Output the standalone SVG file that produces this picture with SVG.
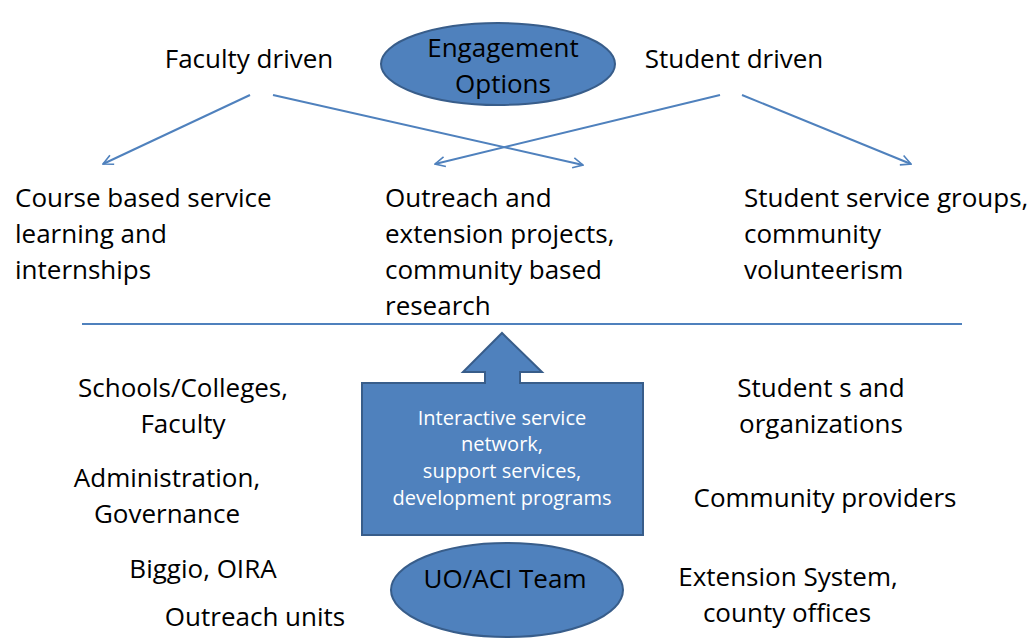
<svg xmlns="http://www.w3.org/2000/svg" width="1031" height="642" viewBox="0 0 1031 642">
<defs>
<style>
.t{font-family:"Open Sans",Lato,"Liberation Sans",sans-serif;font-size:26px;fill:#000}
.c{text-anchor:middle}
.w{font-family:"Open Sans",Lato,"Liberation Sans",sans-serif;font-size:20px;fill:#fff;text-anchor:middle}
.shape{fill:#4F81BD;stroke:#385D8A;stroke-width:2}
.conn{stroke:#4F81BD;stroke-width:2;fill:none;marker-end:url(#ah)}
</style>
<marker id="ah" viewBox="0 0 12 12" refX="11" refY="6" markerWidth="12" markerHeight="12" markerUnits="userSpaceOnUse" orient="auto">
<path d="M1,1 L11,6 L1,11" fill="none" stroke="#4F81BD" stroke-width="1.6"/>
</marker>
</defs>
<rect width="1031" height="642" fill="#fff"/>
<g id="engagement">
<ellipse class="shape" cx="498" cy="64" rx="117" ry="41"/>
<text class="t c" x="503" y="57">Engagement</text>
<text class="t c" x="503" y="93">Options</text>
</g>
<g id="faculty"><text class="t c" x="249" y="68">Faculty driven</text></g>
<g id="student"><text class="t c" x="734" y="68">Student driven</text></g>
<g id="course">
<text class="t" x="15" y="207">Course based service</text>
<text class="t" x="15" y="243">learning and</text>
<text class="t" x="15" y="279">internships</text>
</g>
<g id="outreach">
<text class="t" x="385" y="207">Outreach and</text>
<text class="t" x="385" y="243">extension projects,</text>
<text class="t" x="385" y="279">community based</text>
<text class="t" x="385" y="315">research</text>
</g>
<g id="groups">
<text class="t" x="744" y="207">Student service groups,</text>
<text class="t" x="744" y="243">community</text>
<text class="t" x="744" y="279">volunteerism</text>
</g>
<g id="connectors">
<line class="conn" x1="250" y1="95" x2="103" y2="164"/>
<line class="conn" x1="273" y1="95" x2="583" y2="165"/>
<line class="conn" x1="720" y1="95" x2="435" y2="164"/>
<line class="conn" x1="742" y1="95" x2="911" y2="164"/>
<line x1="82" y1="324" x2="962" y2="324" stroke="#4F81BD" stroke-width="2"/>
</g>
<g id="network">
<path class="shape" d="M362,383 L485,383 L485,372 L463,372 L502,333 L542,372 L520,372 L520,383 L643,383 L643,535 L362,535 Z"/>
<text class="w" x="502" y="425">Interactive service</text>
<text class="w" x="502" y="451">network,</text>
<text class="w" x="502" y="478">support services,</text>
<text class="w" x="502" y="505">development programs</text>
</g>
<g id="team">
<ellipse class="shape" cx="507" cy="590" rx="116" ry="47"/>
<text class="t c" x="505" y="588">UO/ACI Team</text>
</g>
<g id="schools">
<text class="t c" x="183" y="397">Schools/Colleges,</text>
<text class="t c" x="183" y="433">Faculty</text>
</g>
<g id="admin">
<text class="t c" x="167" y="487">Administration,</text>
<text class="t c" x="167" y="523">Governance</text>
</g>
<g id="biggio"><text class="t c" x="203" y="578">Biggio, OIRA</text></g>
<g id="units"><text class="t c" x="255" y="626">Outreach units</text></g>
<g id="students">
<text class="t c" x="821" y="397">Student s and</text>
<text class="t c" x="821" y="433">organizations</text>
</g>
<g id="providers"><text class="t c" x="825" y="507">Community providers</text></g>
<g id="extension">
<text class="t c" x="788" y="586">Extension System,</text>
<text class="t c" x="787" y="622">county offices</text>
</g>
</svg>
